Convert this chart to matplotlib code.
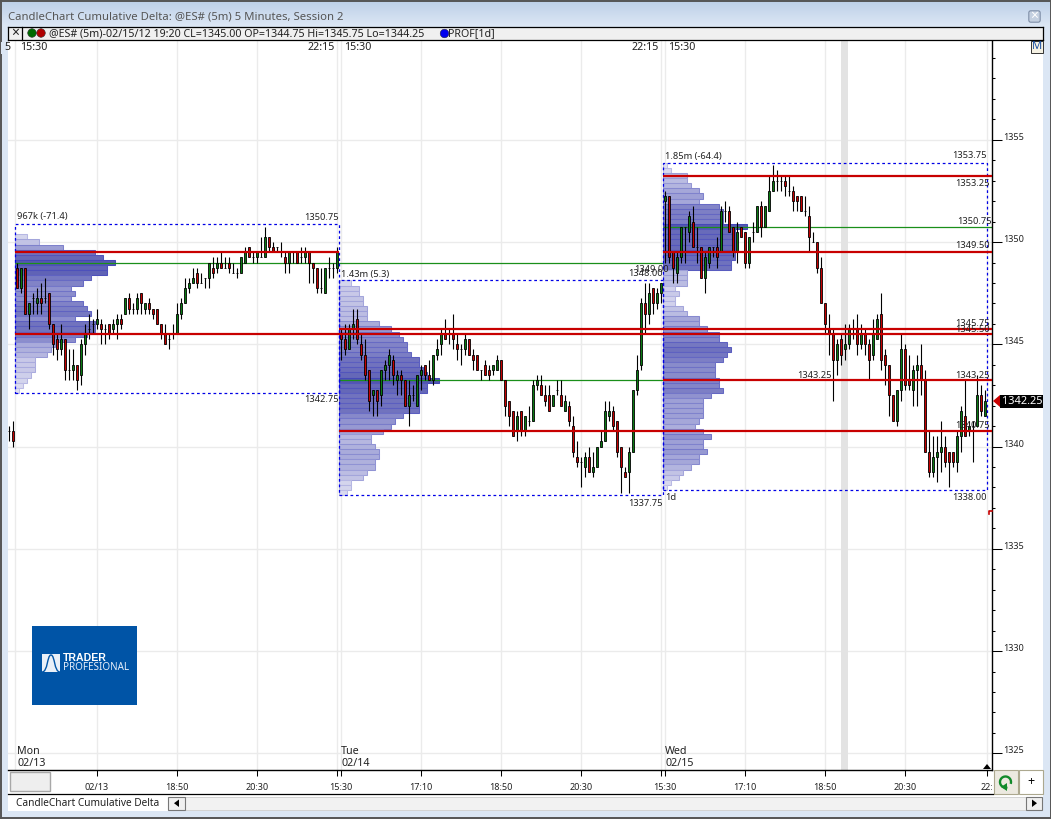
import matplotlib
matplotlib.use("Agg")
import matplotlib.pyplot as plt
from matplotlib.colors import LinearSegmentedColormap, to_rgb
from matplotlib.patches import Rectangle, PathPatch, Arc, Polygon, FancyBboxPatch
from matplotlib.path import Path
from matplotlib.ticker import MultipleLocator
from matplotlib.transforms import ScaledTranslation

plt.rcParams['font.family'] = ['Noto Sans', 'DejaVu Sans']

# bars before monday's session
pre_open = [1340.75, 1340.75]
pre_high = [1341.0, 1341.25]
pre_low = [1340.25, 1340.0]
pre_close = [1340.75, 1340.25]

mon_open = [1348.75, 1347.75, 1348.75, 1346.5, 1347.25, 1347.0, 1347.25, 1347.25, 1347.5, 1346.0, 1345.25, 1344.75, 1345.25, 1343.75, 1343.75, 1344.0, 1343.5, 1345.0, 1345.75, 1346.0, 1346.0, 1346.0, 1345.75, 1346.0, 1345.75, 1346.0, 1346.25, 1346.5, 1347.25, 1346.75, 1346.75, 1347.5, 1346.75, 1347.0, 1346.75, 1346.75, 1346.0, 1345.5, 1345.25, 1345.5, 1345.5, 1346.5, 1347.0, 1347.75, 1348.0, 1348.5, 1348.0, 1348.25, 1348.25, 1348.75, 1348.75, 1349.0, 1348.75, 1349.0, 1348.5, 1348.5, 1348.5, 1349.0, 1349.75, 1349.25, 1349.25, 1349.25, 1349.25, 1350.25, 1349.75, 1349.75, 1349.5, 1349.25, 1349.0, 1349.5, 1349.5, 1349.25, 1349.25, 1349.5, 1349.0, 1348.75, 1347.75, 1347.5, 1348.75, 1348.75, 1348.75]
mon_high = [1349.0, 1348.75, 1348.75, 1347.0, 1347.5, 1347.75, 1348.0, 1348.25, 1347.5, 1346.0, 1345.5, 1346.0, 1345.25, 1344.75, 1344.75, 1344.0, 1345.25, 1346.0, 1346.5, 1346.25, 1346.75, 1346.25, 1346.0, 1346.0, 1346.25, 1346.5, 1346.5, 1347.25, 1347.5, 1347.0, 1347.5, 1347.5, 1347.0, 1347.25, 1346.75, 1346.75, 1346.0, 1346.0, 1345.5, 1346.0, 1347.0, 1347.25, 1348.25, 1348.25, 1348.75, 1348.75, 1348.5, 1348.25, 1349.0, 1349.25, 1349.25, 1349.5, 1349.25, 1349.25, 1349.0, 1348.75, 1349.25, 1349.75, 1349.75, 1349.5, 1349.5, 1350.25, 1350.75, 1350.25, 1350.0, 1349.75, 1350.0, 1349.5, 1349.5, 1349.5, 1349.5, 1349.75, 1349.75, 1349.5, 1349.0, 1348.75, 1348.75, 1348.75, 1349.25, 1349.0, 1349.75]
mon_low = [1347.75, 1347.5, 1346.5, 1345.75, 1346.5, 1346.5, 1346.5, 1347.0, 1345.75, 1344.5, 1344.25, 1344.5, 1343.25, 1343.25, 1343.25, 1342.75, 1343.0, 1344.5, 1345.25, 1345.5, 1345.75, 1345.0, 1345.0, 1345.25, 1345.5, 1345.25, 1345.75, 1346.5, 1346.5, 1346.5, 1346.5, 1346.5, 1346.5, 1346.5, 1346.25, 1346.0, 1345.25, 1345.0, 1344.75, 1345.25, 1345.5, 1346.25, 1347.0, 1347.5, 1348.0, 1347.75, 1348.0, 1347.75, 1347.75, 1348.25, 1348.5, 1348.75, 1348.75, 1348.5, 1348.5, 1348.25, 1348.5, 1349.0, 1349.25, 1349.0, 1349.0, 1349.25, 1349.25, 1349.5, 1349.5, 1349.5, 1349.25, 1348.5, 1348.5, 1349.0, 1349.0, 1349.0, 1349.0, 1348.0, 1348.0, 1347.5, 1347.5, 1347.5, 1348.25, 1348.25, 1348.5]
mon_close = [1347.75, 1348.75, 1346.5, 1347.0, 1347.25, 1347.25, 1347.0, 1347.25, 1346.0, 1345.0, 1344.75, 1345.25, 1343.75, 1343.75, 1344.0, 1343.25, 1345.0, 1345.5, 1345.75, 1346.0, 1346.25, 1345.75, 1345.75, 1345.5, 1346.0, 1346.25, 1346.0, 1347.25, 1346.75, 1346.75, 1347.25, 1347.0, 1347.0, 1346.75, 1346.5, 1346.0, 1345.5, 1345.0, 1345.25, 1345.5, 1346.5, 1347.0, 1347.75, 1348.0, 1348.25, 1348.0, 1348.0, 1348.25, 1349.0, 1348.5, 1349.0, 1348.75, 1348.75, 1348.75, 1348.5, 1348.5, 1349.25, 1349.5, 1349.25, 1349.25, 1349.5, 1349.25, 1350.25, 1349.75, 1349.5, 1349.75, 1349.5, 1349.0, 1349.5, 1349.5, 1349.0, 1349.25, 1349.5, 1349.0, 1348.75, 1347.75, 1347.75, 1348.75, 1348.75, 1348.75, 1349.5]

tue_open = [1345.5, 1345.25, 1344.75, 1345.75, 1346.25, 1345.0, 1344.5, 1343.75, 1342.5, 1342.75, 1342.5, 1343.75, 1344.0, 1344.25, 1343.25, 1343.5, 1343.25, 1342.0, 1342.5, 1342.0, 1343.5, 1344.0, 1343.5, 1343.25, 1344.5, 1345.0, 1345.5, 1345.5, 1345.5, 1345.0, 1344.75, 1344.75, 1345.25, 1344.5, 1344.5, 1343.75, 1344.0, 1343.75, 1343.75, 1343.75, 1344.25, 1343.25, 1342.25, 1341.75, 1340.75, 1341.75, 1340.75, 1341.25, 1341.25, 1343.0, 1343.0, 1342.5, 1342.5, 1342.0, 1342.75, 1342.5, 1341.75, 1342.0, 1341.0, 1339.5, 1339.25, 1339.0, 1339.5, 1338.75, 1339.0, 1340.0, 1340.25, 1341.5, 1341.75, 1341.25, 1340.0, 1338.75, 1338.75, 1339.75, 1342.75, 1344.0, 1347.0, 1346.5, 1347.75, 1347.0, 1347.5]
tue_high = [1345.75, 1346.0, 1346.0, 1346.75, 1346.75, 1345.5, 1345.25, 1343.75, 1342.75, 1342.75, 1343.75, 1344.25, 1344.75, 1344.5, 1343.75, 1343.75, 1343.25, 1343.25, 1343.0, 1343.5, 1344.0, 1344.0, 1344.25, 1344.5, 1345.25, 1345.75, 1346.25, 1345.75, 1346.5, 1345.5, 1345.0, 1345.5, 1345.25, 1344.75, 1344.5, 1343.75, 1344.25, 1344.0, 1344.0, 1344.5, 1344.25, 1343.25, 1342.25, 1341.75, 1341.75, 1341.75, 1341.5, 1342.0, 1343.25, 1343.5, 1343.5, 1343.0, 1343.0, 1342.5, 1343.25, 1343.25, 1342.5, 1342.25, 1341.5, 1340.25, 1339.5, 1339.75, 1340.0, 1339.75, 1340.0, 1340.75, 1342.25, 1342.25, 1342.0, 1341.25, 1340.0, 1339.0, 1340.0, 1342.75, 1344.5, 1347.25, 1348.0, 1348.0, 1347.75, 1347.75, 1348.0]
tue_low = [1344.25, 1344.5, 1344.75, 1345.25, 1345.0, 1344.25, 1343.25, 1341.75, 1341.5, 1341.5, 1342.0, 1343.25, 1343.25, 1343.0, 1342.5, 1342.5, 1342.0, 1341.0, 1342.25, 1342.0, 1342.75, 1343.25, 1343.25, 1343.0, 1344.25, 1344.5, 1345.25, 1345.0, 1344.75, 1344.25, 1344.0, 1344.5, 1344.5, 1343.75, 1343.75, 1343.25, 1343.5, 1343.25, 1343.5, 1343.75, 1343.25, 1341.5, 1341.0, 1340.5, 1340.25, 1340.5, 1340.5, 1341.0, 1341.25, 1342.75, 1342.5, 1342.0, 1341.75, 1342.0, 1342.5, 1342.0, 1341.75, 1341.0, 1339.5, 1339.0, 1338.0, 1338.5, 1338.75, 1338.5, 1339.0, 1340.0, 1340.25, 1341.25, 1340.75, 1339.5, 1337.75, 1338.5, 1337.75, 1339.75, 1342.5, 1343.75, 1345.5, 1346.0, 1346.5, 1346.75, 1347.0]
tue_close = [1345.25, 1344.75, 1345.75, 1346.0, 1345.25, 1344.5, 1343.5, 1342.25, 1342.75, 1342.25, 1343.75, 1344.0, 1344.5, 1343.5, 1343.5, 1343.25, 1342.0, 1342.5, 1342.5, 1343.5, 1343.75, 1343.5, 1343.25, 1344.5, 1344.75, 1345.5, 1345.25, 1345.5, 1345.25, 1344.75, 1344.75, 1345.25, 1344.5, 1344.25, 1343.75, 1343.75, 1343.5, 1343.5, 1344.0, 1344.25, 1343.25, 1342.0, 1341.5, 1340.5, 1341.5, 1340.75, 1341.5, 1341.25, 1343.0, 1343.25, 1342.5, 1342.25, 1341.75, 1342.5, 1342.75, 1342.0, 1342.25, 1341.25, 1339.75, 1339.25, 1339.25, 1339.5, 1338.75, 1339.0, 1340.0, 1340.25, 1341.75, 1341.75, 1341.0, 1339.75, 1339.0, 1338.5, 1339.75, 1342.75, 1343.75, 1347.0, 1346.5, 1347.5, 1347.0, 1347.5, 1348.0]

wed_open = [1352.0, 1352.25, 1349.5, 1348.5, 1349.25, 1350.75, 1350.5, 1351.0, 1349.75, 1349.75, 1348.25, 1349.0, 1349.75, 1349.75, 1349.5, 1351.5, 1351.5, 1350.75, 1349.5, 1350.75, 1350.5, 1349.0, 1350.5, 1350.5, 1351.75, 1350.75, 1351.5, 1352.5, 1353.0, 1353.0, 1353.0, 1352.5, 1352.5, 1352.25, 1352.25, 1351.5, 1351.25, 1350.0, 1350.0, 1348.75, 1347.0, 1345.75, 1345.5, 1344.25, 1345.25, 1344.75, 1345.0, 1345.75, 1345.75, 1345.0, 1345.5, 1345.0, 1344.5, 1345.25, 1346.5, 1344.5, 1344.0, 1342.5, 1341.25, 1342.75, 1344.75, 1343.25, 1342.75, 1343.75, 1344.0, 1343.25, 1339.75, 1338.75, 1339.5, 1339.75, 1340.0, 1339.75, 1339.75, 1339.25, 1340.5, 1341.5, 1340.75, 1341.0, 1341.0, 1342.5, 1341.5]
wed_high = [1352.5, 1352.25, 1349.5, 1349.5, 1350.75, 1350.75, 1351.5, 1351.75, 1350.75, 1349.75, 1349.5, 1349.75, 1349.75, 1350.25, 1351.75, 1352.0, 1351.75, 1350.75, 1351.0, 1350.75, 1350.5, 1350.25, 1351.0, 1351.75, 1352.0, 1351.75, 1353.25, 1353.75, 1353.5, 1353.25, 1353.25, 1353.25, 1352.75, 1352.25, 1352.25, 1352.25, 1351.75, 1350.5, 1350.0, 1349.25, 1347.0, 1346.5, 1345.75, 1345.25, 1345.5, 1346.0, 1346.0, 1346.25, 1346.5, 1346.0, 1345.75, 1345.25, 1346.25, 1346.5, 1347.5, 1344.75, 1344.0, 1342.5, 1342.75, 1345.5, 1345.0, 1344.5, 1344.0, 1344.5, 1345.0, 1343.75, 1340.75, 1340.5, 1340.5, 1341.25, 1340.5, 1339.75, 1339.75, 1340.75, 1342.0, 1343.25, 1341.25, 1341.25, 1343.5, 1343.0, 1342.75]
wed_low = [1349.0, 1349.0, 1348.0, 1348.0, 1349.0, 1349.0, 1350.0, 1349.75, 1349.0, 1348.25, 1347.5, 1348.75, 1349.25, 1348.75, 1349.5, 1351.0, 1350.5, 1349.25, 1349.0, 1350.25, 1348.75, 1348.75, 1350.0, 1350.5, 1350.25, 1350.75, 1351.5, 1352.5, 1352.5, 1352.5, 1352.25, 1352.25, 1351.5, 1351.5, 1351.5, 1351.25, 1349.5, 1350.0, 1348.5, 1347.0, 1345.5, 1344.5, 1342.25, 1343.5, 1344.0, 1344.25, 1344.75, 1345.25, 1344.5, 1344.75, 1344.5, 1343.25, 1344.25, 1345.25, 1343.75, 1343.0, 1341.5, 1341.25, 1341.0, 1342.25, 1342.75, 1342.75, 1342.0, 1342.0, 1342.5, 1339.75, 1338.5, 1338.5, 1338.25, 1338.75, 1339.0, 1338.0, 1339.0, 1338.75, 1339.75, 1340.5, 1340.5, 1339.25, 1341.0, 1341.5, 1341.5]
wed_close = [1352.25, 1349.25, 1348.75, 1349.25, 1350.75, 1350.75, 1351.25, 1349.75, 1349.75, 1348.25, 1349.25, 1349.75, 1349.75, 1349.25, 1351.5, 1351.5, 1350.5, 1349.5, 1350.5, 1350.25, 1349.0, 1350.25, 1350.5, 1351.75, 1350.75, 1351.75, 1352.5, 1353.0, 1353.0, 1353.0, 1352.75, 1352.5, 1352.0, 1352.0, 1351.5, 1351.5, 1350.25, 1350.0, 1348.75, 1347.0, 1346.0, 1345.5, 1344.25, 1345.0, 1344.5, 1345.0, 1345.75, 1345.75, 1345.0, 1345.5, 1345.0, 1344.25, 1345.5, 1346.25, 1344.25, 1344.0, 1342.5, 1341.25, 1342.75, 1344.75, 1343.0, 1343.0, 1343.75, 1344.0, 1343.25, 1339.75, 1338.75, 1339.5, 1339.75, 1340.0, 1339.25, 1339.25, 1339.25, 1340.5, 1341.75, 1340.5, 1341.0, 1341.0, 1342.5, 1341.75, 1342.25]

# volume profile rows, highest price first, one row per 0.25
mon_prof_top = 1350.25
mon_prof = [3, 6, 12, 20, 22, 25, 23, 23, 19, 17, 14, 15, 14, 17, 18, 19, 15, 20, 20, 18, 15, 10, 9, 8, 5, 5, 5, 4, 3, 2, 1]
tue_prof_top = 1348.0
tue_prof = [3, 5, 5, 6, 6, 7, 7, 7, 10, 13, 15, 16, 17, 17, 18, 20, 20, 21, 22, 25, 22, 22, 20, 20, 20, 20, 16, 14, 13, 11, 8, 8, 9, 10, 10, 9, 9, 7, 6, 3, 3, 2]
wed_prof_top = 1353.75
wed_prof = [1, 2, 6, 6, 7, 9, 10, 9, 14, 15, 15, 15, 21, 18, 18, 18, 18, 18, 18, 17, 17, 6, 6, 6, 3, 4, 3, 3, 5, 6, 9, 9, 11, 14, 14, 16, 17, 16, 15, 13, 13, 13, 14, 14, 15, 12, 10, 10, 10, 10, 9, 8, 10, 12, 10, 10, 11, 9, 9, 7, 5, 4, 2, 1]

session_names = ['Mon', 'Tue', 'Wed']
session_dates = ['02/13', '02/14', '02/15']
session_len = 81
session_high = [1350.75, 1348.0, 1353.75]
session_low = [1342.75, 1337.75, 1338.0]

# levels: (price, first bar, last bar)
red_levels = [(1349.5, 0, 81), (1345.5, 0, 244.25), (1345.75, 81, 244.25), (1340.75, 81, 244.25),
              (1353.25, 162, 244.25), (1349.5, 162, 244.25), (1343.25, 162, 244.25)]
poc_levels = [(1349.0, 0, 162), (1343.25, 81, 162), (1350.75, 162, 244.25)]

x_tick_pos = [20, 40, 60, 80, 81, 101, 121, 141, 161, 162, 182, 202, 222, 242.5]
x_tick_txt = ['02/13', '18:50', '20:30', '', '15:30', '17:10', '18:50', '20:30', '', '15:30', '17:10', '18:50', '20:30', '22:']

price_ticks = [1325, 1330, 1335, 1340, 1345, 1350, 1355]

W, H = 1051, 819
GREEN = '#0a7a12'
RED = '#c40000'
LEVEL_RED = '#c80000'
POC_GREEN = '#1a8f1a'
BLUE = '#0000e6'
TXT = '#222222'
FS = 7.7
FS_LEVEL = 6.7
FS_TICK = 6.5
WIN = '#dbe6f4'

fig = plt.figure(figsize=(W / 100, H / 100), dpi=100, facecolor=WIN)


def pixel_axes(z):
    a = fig.add_axes([0, 0, 1, 1], zorder=z)
    a.set_xlim(0, W)
    a.set_ylim(H, 0)
    a.axis('off')
    return a


bg = pixel_axes(0)
top = pixel_axes(5)

# window panels under the chart
c0, c1 = to_rgb('#bccfe7'), to_rgb(WIN)
for i in range(26):
    t = i / 25
    bg.add_patch(Rectangle((0, i), W, 1, fc=[a + (b - a) * t for a, b in zip(c0, c1)], ec='none'))
bg.add_patch(Rectangle((8, 40), 1035, 754, fc='white', ec='none'))
bg.add_patch(Rectangle((8, 794), 1035, 17, fc='white', ec='none'))
bg.add_patch(Rectangle((8, 26.5), 1035, 13.5, fc='#f0f0f0', ec='none'))
bg.plot([0, W], [0.5, 0.5], color='#555555', lw=1.4)
bg.plot([0, W], [818, 818], color='#555555', lw=1.4)
bg.plot([0.5, 0.5], [0, H], color='#555555', lw=1.4)
bg.plot([1050.5, 1050.5], [0, H], color='#555555', lw=1.4)

ax = fig.add_axes([8 / W, 1 - 770 / H, (992 - 8) / W, (770 - 41) / H], zorder=1)
ax.set_facecolor('white')
ax.set_xlim((8 - 17) / 4, (992 - 17) / 4)
ax.set_ylim(1345 - (770 - 344.3) / 20.45, 1345 + (344.3 - 41) / 20.45)

ax.axvspan(206, 207.75, color='#e3e3e3', lw=0, zorder=0.6)
ax.axvline(-0.5, color='#ebebeb', lw=1, zorder=0.5)

prof_cmap = LinearSegmentedColormap.from_list('prof', ['#e6e6f5', '#9a9cd4', '#5558b0'])
edge_cmap = LinearSegmentedColormap.from_list('prof_edge', ['#c8c8ea', '#7b7ecb', '#4548b8'])

sessions = [
    (mon_open, mon_high, mon_low, mon_close, mon_prof, mon_prof_top),
    (tue_open, tue_high, tue_low, tue_close, tue_prof, tue_prof_top),
    (wed_open, wed_high, wed_low, wed_close, wed_prof, wed_prof_top),
]


def draw_candles(xs, opens, highs, lows, closes):
    ax.vlines(xs, lows, highs, color='black', lw=0.8, zorder=2)
    colors = [GREEN if c > o else RED for o, c in zip(opens, closes)]
    bottoms = [min(o, c) for o, c in zip(opens, closes)]
    heights = [abs(c - o) for o, c in zip(opens, closes)]
    ax.bar(xs, heights, bottom=bottoms, width=0.6, color=colors, edgecolor='black', lw=0.6, zorder=2.1)


for n, (o, h, l, c, prof, prof_top) in enumerate(sessions):
    start = n * session_len
    ys = [prof_top - 0.25 * i for i in range(len(prof))]
    mx = max(prof)
    ax.barh(ys, prof, height=0.25, left=start - 0.5,
            color=[prof_cmap(v / mx) for v in prof], edgecolor=[edge_cmap(v / mx) for v in prof],
            lw=0.75, zorder=1)
    draw_candles([start + i for i in range(len(o))], o, h, l, c)
    ax.add_patch(Rectangle((start - 0.5, session_low[n] - 0.125), session_len,
                           session_high[n] - session_low[n] + 0.25, fill=False,
                           ec=BLUE, lw=0.9, ls=(0, (2.2, 2.2)), zorder=2.5))

draw_candles([-2, -1], pre_open, pre_high, pre_low, pre_close)

for price, a, b in poc_levels:
    ax.hlines(price, a - 0.5, b - 0.5, color=POC_GREEN, lw=0.9, zorder=1.5)
for price, a, b in red_levels:
    ax.hlines(price, a - 0.5, b - 0.5, color=LEVEL_RED, lw=1.6, zorder=3)

# axes and grid
ax.set_xticks(x_tick_pos)
ax.set_xticklabels(x_tick_txt, fontsize=FS_TICK, color=TXT)
ax.set_yticks(price_ticks)
ax.set_yticklabels([str(p) for p in price_ticks], fontsize=FS_TICK, color=TXT)
ax.yaxis.set_minor_locator(MultipleLocator(1))
ax.yaxis.tick_right()
ax.tick_params(axis='y', which='major', length=7.2, width=0.75, pad=1)
ax.tick_params(axis='y', which='minor', length=2.2, width=0.75)
ax.tick_params(axis='x', which='major', length=4.3, width=0.75, pad=5)
ax.grid(True, which='major', color='#ebebeb', lw=1.0)
ax.set_axisbelow(True)
for lab in ax.get_yticklabels():
    lab.set_transform(lab.get_transform() + ScaledTranslation(0, 0.035, fig.dpi_scale_trans))
for side in ['left', 'top']:
    ax.spines[side].set_visible(False)
for side in ['right', 'bottom']:
    ax.spines[side].set_linewidth(1.0)

# session and level labels, placed in window pixels
kw = dict(fontsize=FS, color=TXT, va='center')
lv = dict(fontsize=FS_LEVEL, color=TXT, va='center')
for x, name, date in zip([17, 341, 665], session_names, session_dates):
    top.text(x, 751, name, **kw)
    top.text(x, 763, date, **kw)
for x in [20, 344, 668]:
    top.text(x, 48, '15:30', **kw)
for x in [335, 659]:
    top.text(x, 48, '22:15', ha='right', **kw)
top.text(4, 48, '5', **kw)
top.add_patch(Rectangle((1, 42), 7, 12, fc=WIN, ec='none'))

top.text(17, 217, '967k (-71.4)', **lv)
top.text(341, 274, '1.43m (5.3)', **lv)
top.text(665, 156, '1.85m (-64.4)', **lv)
top.text(665, 497, '1d', **lv)
for txt, x, y in [('1350.75', 339, 217), ('1342.75', 339, 399), ('1349.00', 669, 269),
                  ('1348.00', 663, 274), ('1337.75', 663, 503), ('1353.75', 987, 156),
                  ('1353.25', 990, 183), ('1350.75', 992, 221), ('1349.50', 990, 246),
                  ('1345.50', 990, 329), ('1345.75', 990, 324), ('1343.25', 832, 375),
                  ('1343.25', 990, 375), ('1340.75', 990, 426), ('1338.00', 987, 498)]:
    top.text(x, y, txt, ha='right', **lv)

# title and header strip
top.text(8, 17, 'CandleChart Cumulative Delta: @ES# (5m) 5 Minutes, Session 2', fontsize=8.15, color='#555555', va='center')
top.add_patch(FancyBboxPatch((1030, 12), 9, 9, boxstyle='round,pad=1.2,rounding_size=2', fc='#c4d0e0', ec='#7f8fa8', lw=0.8))
top.text(1034.5, 16.5, '×', fontsize=10, fontweight='bold', color='white', ha='center', va='center')
top.plot([8, 1043], [26.5, 26.5], color='black', lw=0.9)
top.plot([8, 1043], [40, 40], color='black', lw=0.9)
top.plot([8, 8], [26.5, 40], color='black', lw=0.9)
top.plot([1042.5, 1042.5], [26.5, 40], color='black', lw=0.9)
top.plot([22, 22], [26.5, 40], color='black', lw=0.9)
top.text(15, 33.5, '×', fontsize=10, color='#222222', ha='center', va='center')
top.scatter([32, 41], [33, 33], s=38, c=['#006a00', '#b00000'], edgecolors='#333333', linewidths=0.4)
top.scatter([444], [33], s=38, c='#0000ee', edgecolors='#222244', linewidths=0.4)
top.text(49, 33.5, '@ES# (5m)-02/15/12 19:20 CL=1345.00 OP=1344.75 Hi=1345.75 Lo=1344.25', **kw)
top.text(448, 33.5, 'PROF[1d]', **kw)
top.add_patch(Rectangle((1031, 41), 11.5, 11.5, fc='#f5f1e3', ec='#333333', lw=0.7))
top.text(1036.8, 46.8, 'M', fontsize=8, color='#1a4fa0', ha='center', va='center')

# last price marker
top.add_patch(Polygon([(993, 401), (1000, 395), (1000, 407)], fc=LEVEL_RED, ec='none'))
top.add_patch(Rectangle((1000, 395), 42.5, 12.5, fc='black', ec='none'))
top.text(1022, 401, '1342.25', fontsize=7.9, color='white', ha='center', va='center')
top.plot([989, 989, 992], [514, 511, 511], color=LEVEL_RED, lw=1.2)
top.add_patch(Polygon([(983, 769), (987, 764), (991, 769)], fc='black', ec='none'))

# logo
top.add_patch(Rectangle((32, 626), 105, 79, fc='#0054a6', ec='none'))
top.add_patch(Rectangle((42, 654), 18, 18, fc='#eaf0f8', ec='none'))
bell = Path([(42, 672), (48, 672), (47, 655), (51, 655), (55, 655), (54, 672), (60, 672)],
            [Path.MOVETO, Path.CURVE4, Path.CURVE4, Path.CURVE4, Path.CURVE4, Path.CURVE4, Path.CURVE4])
top.add_patch(PathPatch(bell, fc='none', ec='#0054a6', lw=1.0))
top.text(63, 658, 'TRADER', fontsize=7.6, fontweight='bold', family='Liberation Sans', color='white', va='center')
top.text(63, 667.5, 'PROFESIONAL', fontsize=7.1, color='#e6eefa', va='center')

# bottom strip
top.add_patch(Rectangle((10, 772), 40, 19, fc='#eeeeee', ec='#a8a8a8', lw=1.0))
top.plot([8, 993], [794, 794], color='black', lw=0.9)
top.text(16, 803.5, 'CandleChart Cumulative Delta', fontsize=7.3, color=TXT, va='center')
top.add_patch(Rectangle((185, 797), 841, 13, fc='#f2f2f2', ec='#cccccc', lw=0.6))
top.add_patch(Rectangle((168, 797), 16.5, 13, fc='#f0f0f0', ec='#777777', lw=0.8))
top.add_patch(Polygon([(179, 799.5), (179, 807), (174, 803.2)], fc='black', ec='none'))
top.add_patch(Rectangle((1026, 797), 16, 13, fc='#f0f0f0', ec='#777777', lw=0.8))
top.add_patch(Polygon([(1032, 799.5), (1032, 807), (1037, 803.2)], fc='black', ec='none'))

# refresh and plus buttons
top.add_patch(Rectangle((993.5, 770), 24, 24, fc='#ece9e0', ec='#aca88f', lw=0.8))
top.add_patch(Rectangle((1018.5, 770), 24, 24, fc='white', ec='#aca88f', lw=0.8))
top.text(1030.5, 781.5, '+', fontsize=9, color='black', ha='center', va='center')
top.add_patch(Arc((1005.5, 782), 11, 11, theta1=70, theta2=20, color='#118a2a', lw=1.7))
top.add_patch(Polygon([(1001, 787), (1007, 783), (1007, 791)], fc='#118a2a', ec='none'))

fig.savefig('out.png', dpi=100)
